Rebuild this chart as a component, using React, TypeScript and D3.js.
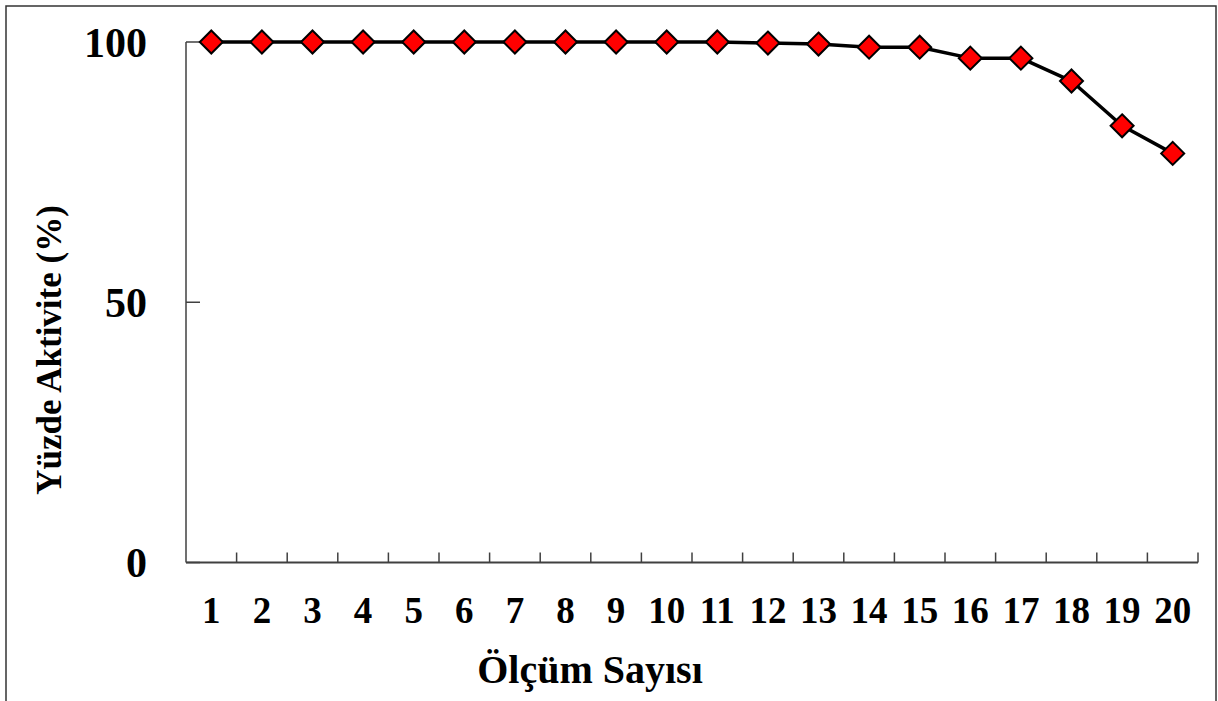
import React from "react";
import * as d3 from "d3";

const categories: string[] = ["1","2","3","4","5","6","7","8","9","10","11","12","13","14","15","16","17","18","19","20"];
const activity: number[] = [100,100,100,100,100,100,100,100,100,100,100,99.8,99.6,99,99,96.9,96.9,92.5,83.9,78.6];
const yTicks: number[] = [0, 50, 100];
const xTitle = "Ölçüm Sayısı";
const yTitle = "Yüzde Aktivite (%)";

const W = 1218, H = 701;
const L = 186, R = 1198, T = 42, B = 562.5;
const FONT = "'Liberation Serif', 'Times New Roman', serif";

export default function App() {
  const x = d3.scaleBand<string>().domain(categories).range([L, R]).paddingInner(0).paddingOuter(0);
  const y = d3.scaleLinear().domain([0, 100]).range([B, T]);
  const cx = (c: string) => (x(c) as number) + x.bandwidth() / 2;
  const line = d3.line<number>().x((_, i) => cx(categories[i])).y((d) => y(d)).curve(d3.curveLinear);
  const boundaries = categories.map((c) => (x(c) as number) + x.bandwidth());
  const axisColor = "#404040";
  const m = 11.5;
  return (
    <svg width={W} height={H} style={{ position: "absolute", left: 0, top: 0, background: "#fff" }}>
      <rect x={6} y={6} width={1210} height={720} fill="#fff" stroke="#333" strokeWidth={1.5} />
      <line x1={L} y1={T} x2={L} y2={B} stroke={axisColor} strokeWidth={1.5} />
      <line x1={L} y1={B} x2={R} y2={B} stroke={axisColor} strokeWidth={1.8} />
      {yTicks.map((t) => (
        <g key={t}>
          <line x1={L} x2={L + 14} y1={y(t)} y2={y(t)} stroke={axisColor} strokeWidth={1.5} />
          <text x={147} y={y(t)} dy="0.35em" textAnchor="end" fontFamily={FONT} fontWeight="bold" fontSize={42} fill="#000">{t}</text>
        </g>
      ))}
      {boundaries.map((b, i) => (
        <line key={i} x1={b} x2={b} y1={B} y2={B - 10} stroke={axisColor} strokeWidth={1.5} />
      ))}
      {categories.map((c) => (
        <text key={c} x={cx(c)} y={623} textAnchor="middle" fontFamily={FONT} fontWeight="bold" fontSize={37} fill="#000">{c}</text>
      ))}
      <text x={590} y={683} textAnchor="middle" fontFamily={FONT} fontWeight="bold" fontSize={40} fill="#000">{xTitle}</text>
      <text transform={`translate(61, 350) rotate(-90)`} textAnchor="middle" fontFamily={FONT} fontWeight="bold" fontSize={35} fill="#000">{yTitle}</text>
      <path d={line(activity) || ""} fill="none" stroke="#000" strokeWidth={3.5} strokeLinejoin="round" />
      {activity.map((v, i) => {
        const px = cx(categories[i]);
        const py = y(v);
        return (
          <path key={i} d={`M${px},${py - m}L${px + m},${py}L${px},${py + m}L${px - m},${py}Z`} fill="#ff0000" stroke="#000" strokeWidth={2} />
        );
      })}
    </svg>
  );
}
